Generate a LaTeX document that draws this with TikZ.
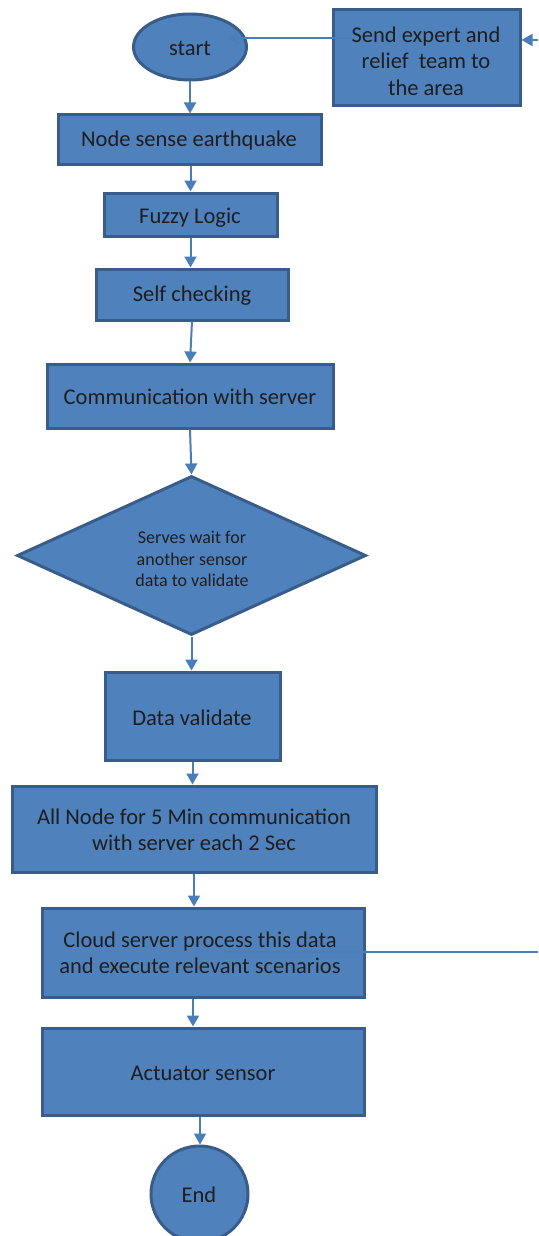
\documentclass[tikz,border=0pt]{standalone}
\usepackage{fontspec}
\setmainfont{Carlito}
\usetikzlibrary{arrows.meta,shapes.geometric}
\definecolor{boxfill}{RGB}{79,129,189}
\definecolor{boxline}{RGB}{56,93,138}
\definecolor{conn}{RGB}{74,126,187}
\definecolor{txt}{RGB}{30,30,30}
\tikzset{
  shapebox/.style={draw=boxline,fill=boxfill,line width=3pt,rectangle,inner sep=0pt},
  shapeell/.style={draw=boxline,fill=boxfill,line width=3pt,ellipse,inner sep=0pt},
  shapedia/.style={draw=boxline,fill=boxfill,line width=3pt,diamond,inner sep=0pt},
  lbl/.style={text=txt,font=\fontsize{22.5}{26.5}\selectfont,align=center,inner sep=0pt},
  lblsmall/.style={text=txt,font=\fontsize{18}{21.5}\selectfont,align=center,inner sep=0pt},
  arr/.style={draw=conn,line width=2pt,-{Triangle[length=11pt,width=12pt]}},
  ln/.style={draw=conn,line width=2pt}
}
\begin{document}
\begin{tikzpicture}[x=1pt,y=-1pt]
\useasboundingbox (0,0) rectangle (538,1236);
% shapes
\node[shapeell,minimum width=113pt,minimum height=66pt] (start) at (190,47) {};
\node[shapebox,minimum width=187pt,minimum height=96pt] (send) at (426.5,58) {};
\node[shapebox,minimum width=263pt,minimum height=49pt] (nse) at (189.5,139.5) {};
\node[shapebox,minimum width=173pt,minimum height=43pt] (fz) at (190.5,214.5) {};
\node[shapebox,minimum width=192pt,minimum height=51pt] (sc) at (192,294.5) {};
\node[shapebox,minimum width=286pt,minimum height=64pt] (comm) at (190,396) {};
\node[shapedia,minimum width=349pt,minimum height=159pt] (dia) at (191.5,555.5) {};
\node[shapebox,minimum width=175pt,minimum height=88pt] (dv) at (192.5,716) {};
\node[shapebox,minimum width=364pt,minimum height=86pt] (all) at (194,829) {};
\node[shapebox,minimum width=322pt,minimum height=89pt] (cloud) at (203,952.5) {};
\node[shapebox,minimum width=322pt,minimum height=87pt] (act) at (203,1071.5) {};
\node[shapeell,minimum width=97pt,minimum height=96pt] (endn) at (199.5,1194) {};
% free ends
\coordinate (rtop) at (538,40);
\coordinate (rbot) at (538,952);
\coordinate (sendin) at (352,38);
\coordinate (startin) at (228,38);
\coordinate (cloudin) at (224,952);
% connectors
\draw[arr] (start.south) -- (start.south |- nse.north);
\draw[arr] (nse.south -| fz.north) -- (fz.north);
\draw[arr] (fz.south) -- (fz.south |- sc.north);
\draw[arr] (sc.south) -- (comm.north);
\draw[arr] (comm.south) -- (dia.north);
\draw[arr] (dia.south) -- (dia.south |- dv.north);
\draw[arr] (dv.south) -- (dv.south |- all.north);
\draw[arr] (all.south) -- (all.south |- cloud.north);
\draw[arr] ([xshift=-10pt]cloud.south) -- ([xshift=-10pt]cloud.south |- act.north);
\draw[arr] ([xshift=-3pt]act.south) -- ([xshift=-3pt]act.south |- endn.north);
\draw[arr] (sendin) -- (startin);
\draw[arr] (rtop) -- (rtop -| send.east);
\draw[ln] (cloudin) -- (rbot);
% labels
\node[lbl] (tstart) at (190,48) {start};
\node[lbl] (tsend) at (426,61) {Send expert and\\relief\ \ team to\\the area};
\node[lbl] (tnse) at (189,141) {Node sense earthquake};
\node[lbl] (tfz) at (190,218) {Fuzzy Logic};
\node[lbl] (tsc) at (192,296) {Self checking};
\node[lbl] (tcomm) at (190,397) {Communication with server};
\node[lblsmall] (tdia) at (192,559) {Serves wait for\\another sensor\\data to validate};
\node[lbl] (tdv) at (192,718) {Data validate};
\node[lbl] (tall) at (194,830) {All Node for 5 Min communication\\with server each 2 Sec};
\node[lbl] (tcloud) at (200,953) {Cloud server process this data\\and execute relevant scenarios};
\node[lbl] (tact) at (203,1073) {Actuator sensor};
\node[lbl] (tend) at (199,1195) {End};
\end{tikzpicture}
\end{document}
